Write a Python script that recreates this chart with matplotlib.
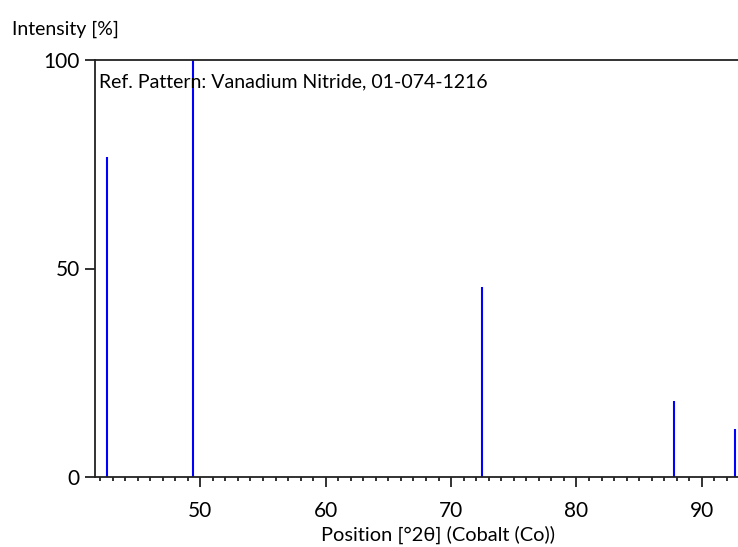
import matplotlib
matplotlib.use("Agg")
import matplotlib.pyplot as plt
from matplotlib.ticker import MultipleLocator

plt.rcParams['font.family'] = ['Lato', 'DejaVu Sans']

# reference peaks (position in deg 2theta, relative intensity %)
positions = [42.58, 49.44, 72.46, 87.74, 92.66]
intensities = [76.7, 100.0, 45.6, 18.3, 11.4]

fig = plt.figure(figsize=(7.38, 5.47), dpi=100)
ax = fig.add_axes([95 / 738, 1 - 477 / 547, 1 - 95 / 738 + 0.002, (477 - 60) / 547])

ax.vlines(positions, 0, intensities, colors='#0000ff', linewidth=1.5)

ax.set_xlim(41.6, 93.0)
ax.set_ylim(0, 100)
ax.set_xticks([50, 60, 70, 80, 90])
ax.xaxis.set_minor_locator(MultipleLocator(1))
ax.set_yticks([0, 50, 100])

ax.tick_params(axis='both', which='major', labelsize=15, length=7, width=1.3, color='#222222')
ax.tick_params(axis='x', which='minor', length=3, width=1.3, color='#222222')
ax.tick_params(axis='x', pad=10)
ax.tick_params(axis='y', pad=4)
for s in ['left', 'bottom', 'top']:
    ax.spines[s].set_linewidth(1.3)
    ax.spines[s].set_color('#222222')
ax.spines['right'].set_visible(False)

ax.text(0.006, 0.948, 'Ref. Pattern: Vanadium Nitride, 01-074-1216',
        transform=ax.transAxes, fontsize=14, va='center', ha='left')

fig.text(12 / 738, 1 - 29 / 547, 'Intensity [%]', fontsize=14, va='center', ha='left')
fig.text(438 / 738, 1 - 535 / 547, 'Position [°2θ] (Cobalt (Co))', fontsize=14.4,
         va='center', ha='center')

fig.savefig('out.png', dpi=100)
